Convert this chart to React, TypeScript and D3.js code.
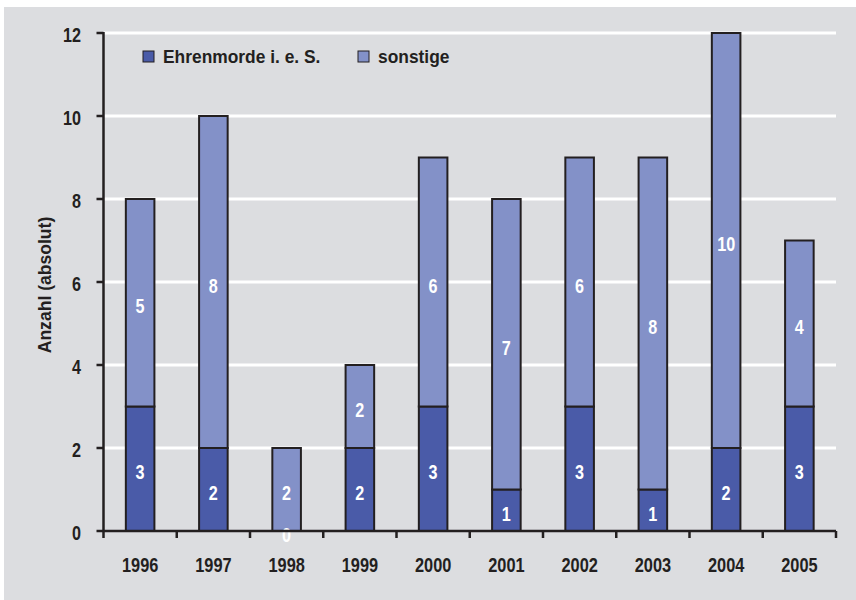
import React from 'react';
import * as d3 from 'd3';

const years = ['1996', '1997', '1998', '1999', '2000', '2001', '2002', '2003', '2004', '2005'];
const ehrenmorde = [3, 2, 0, 2, 3, 1, 3, 1, 2, 3];
const sonstige = [5, 8, 2, 2, 6, 7, 6, 8, 10, 4];
const yTicks = [0, 2, 4, 6, 8, 10, 12];
const seriesNames = ['Ehrenmorde i. e. S.', 'sonstige'];

const COLORS = ['#4a5ba8', '#8391c8'];
const INK = '#231f20';
const FONT = '"Liberation Sans", Arial, sans-serif';

// narrow bold text: the original uses a condensed grotesque, so squeeze Liberation Sans
const Txt: React.FC<{ x: number; y: number; size: number; sx: number; anchor?: string; fill?: string; rotate?: number; children: React.ReactNode }> =
  ({ x, y, size, sx, anchor = 'start', fill = INK, rotate = 0, children }) => (
    <text transform={`translate(${x},${y}) rotate(${rotate}) scale(${sx},1)`} textAnchor={anchor}
      fill={fill} fontSize={size} fontWeight="bold">{children}</text>
  );

const App: React.FC = () => {
  const width = 856;
  const height = 600;
  const margin = { left: 103.5, right: 20, top: 33, bottom: 69 };

  const x = d3.scaleBand<string>()
    .domain(years)
    .range([margin.left, width - margin.right])
    .padding(0);
  const y = d3.scaleLinear()
    .domain([0, 12])
    .range([height - margin.bottom, margin.top]);

  const barW = x.bandwidth() * 0.39;
  const stacked = d3.stack<number>()
    .keys(['0', '1'])
    .value((i, k) => (k === '0' ? ehrenmorde[i] : sonstige[i]))(d3.range(years.length));

  const x0 = margin.left;
  const x1 = width - margin.right;
  const yBase = y(0);

  return (
    <svg width={width} height={height} style={{ position: 'absolute', left: 0, top: 0 }} fontFamily={FONT}>
      <rect x={4} y={7} width={852} height={593} fill="#dcdde0" />

      {/* gridlines */}
      {yTicks.filter(t => t > 0).map(t => (
        <line key={t} x1={x0} x2={x1} y1={y(t)} y2={y(t)} stroke="#ffffff" strokeWidth={3} />
      ))}

      {/* bars */}
      {stacked.map((layer, si) => (
        <g key={si}>
          {layer.map((d, i) => {
            const cx = (x(years[i]) as number) + x.bandwidth() / 2;
            const top = y(d[1]);
            const bot = y(d[0]);
            if (d[1] - d[0] <= 0) return null;
            return (
              <rect key={i} x={cx - barW / 2} y={top} width={barW} height={bot - top}
                fill={COLORS[si]} stroke={INK} strokeWidth={2} />
            );
          })}
        </g>
      ))}

      {/* value labels */}
      {stacked.map((layer, si) => (
        <g key={'l' + si}>
          {layer.map((d, i) => {
            const cx = (x(years[i]) as number) + x.bandwidth() / 2;
            const mid = (y(d[0]) + y(d[1])) / 2;
            return (
              <Txt key={i} x={cx} y={mid + 10.5} size={19.5} sx={0.83} anchor="middle" fill="#ffffff">
                {d[1] - d[0]}
              </Txt>
            );
          })}
        </g>
      ))}

      {/* y axis */}
      <line x1={x0} x2={x0} y1={y(12) - 1} y2={yBase + 1} stroke={INK} strokeWidth={2.5} />
      {yTicks.map(t => (
        <g key={t}>
          <line x1={x0 - 7} x2={x0} y1={y(t)} y2={y(t)} stroke={INK} strokeWidth={2.5} />
          <Txt x={81} y={y(t) + 8.5} size={19.5} sx={0.83} anchor="end">{t}</Txt>
        </g>
      ))}

      {/* x axis */}
      <line x1={x0} x2={x1} y1={yBase} y2={yBase} stroke={INK} strokeWidth={2.5} />
      {[...years.map(yr => x(yr) as number), x1].map((px, i) => (
        <line key={i} x1={px} x2={px} y1={yBase} y2={yBase + 7} stroke={INK} strokeWidth={2.5} />
      ))}
      {years.map(yr => (
        <Txt key={yr} x={(x(yr) as number) + x.bandwidth() / 2} y={571.5} size={19.5} sx={0.84} anchor="middle">
          {yr}
        </Txt>
      ))}

      <Txt x={51} y={(y(0) + y(12)) / 2 + 3} size={18.5} sx={0.95} anchor="middle" rotate={-90}>
        Anzahl (absolut)
      </Txt>

      {/* legend */}
      {seriesNames.map((name, i) => {
        const lx = i === 0 ? 143 : 358;
        return (
          <g key={name}>
            <rect x={lx} y={51} width={11} height={11} fill={COLORS[i]} stroke={INK} strokeWidth={1} />
            <Txt x={lx + 20} y={63.3} size={18.5} sx={0.94}>{name}</Txt>
          </g>
        );
      })}
    </svg>
  );
};

export default App;
